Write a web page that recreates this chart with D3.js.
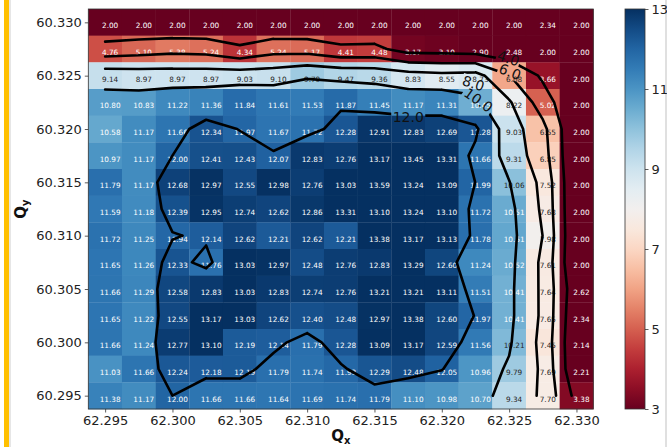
<!DOCTYPE html>
<html>
<head>
<meta charset="utf-8">
<script src="https://cdn.jsdelivr.net/npm/d3@7"></script>
<style>
  body { margin: 0; background: #fff; }
  svg { display: block; font-family: "DejaVu Sans", sans-serif; }
</style>
</head>
<body>
<svg id="chart" width="667" height="447"></svg>
<script>
// centres of the cells
var qx = d3.range(15).map(function (i) { return +(62.295 + i * 0.0025).toFixed(4); });
var qy = d3.range(15).map(function (i) { return +(60.330 - i * 0.0025).toFixed(4); });

// rows from top (Qy = 60.330) to bottom (Qy = 60.295)
var row01 = [2.00, 2.00, 2.00, 2.00, 2.00, 2.00, 2.00, 2.00, 2.00, 2.00, 2.00, 2.00, 2.00, 2.34, 2.00];
var row02 = [4.76, 5.10, 5.38, 5.24, 4.34, 5.24, 5.17, 4.41, 4.48, 3.17, 3.10, 2.90, 2.48, 2.00, 2.00];
var row03 = [9.14, 8.97, 8.97, 8.97, 9.03, 9.10, 9.79, 9.47, 9.36, 8.83, 8.55, 8.73, 6.08, 3.66, 2.00];
var row04 = [10.80, 10.83, 11.22, 11.36, 11.84, 11.61, 11.53, 11.87, 11.45, 11.17, 11.31, 10.45, 8.22, 5.02, 2.00];
var row05 = [10.58, 11.17, 11.66, 12.34, 11.97, 11.67, 11.72, 12.28, 12.91, 12.83, 12.69, 12.28, 9.03, 6.55, 2.00];
var row06 = [10.97, 11.17, 12.00, 12.41, 12.43, 12.07, 12.83, 12.76, 13.17, 13.45, 13.31, 11.66, 9.31, 6.85, 2.00];
var row07 = [11.79, 11.17, 12.68, 12.97, 12.55, 12.98, 12.76, 13.03, 13.59, 13.24, 13.09, 11.99, 10.06, 7.52, 2.00];
var row08 = [11.59, 11.18, 12.39, 12.95, 12.74, 12.62, 12.86, 13.31, 13.10, 13.24, 13.10, 11.72, 10.51, 7.68, 2.00];
var row09 = [11.72, 11.25, 11.94, 12.14, 12.62, 12.21, 12.62, 12.21, 13.38, 13.17, 13.13, 11.78, 10.61, 7.98, 2.00];
var row10 = [11.65, 11.26, 12.33, 11.76, 13.03, 12.97, 12.48, 12.76, 12.83, 13.29, 12.60, 11.24, 10.52, 7.61, 2.00];
var row11 = [11.66, 11.29, 12.58, 12.83, 13.03, 12.83, 12.74, 12.76, 13.21, 13.21, 13.11, 11.51, 10.41, 7.64, 2.62];
var row12 = [11.65, 11.22, 12.55, 13.17, 13.03, 12.62, 12.40, 12.48, 12.97, 13.38, 12.60, 11.97, 10.41, 7.65, 2.34];
var row13 = [11.66, 11.24, 12.77, 13.10, 12.19, 12.14, 11.79, 12.28, 13.09, 13.17, 12.59, 11.56, 10.21, 7.45, 2.14];
var row14 = [11.03, 11.66, 12.24, 12.18, 12.19, 11.79, 11.74, 11.93, 12.29, 12.48, 12.05, 10.96, 9.79, 7.69, 2.21];
var row15 = [11.38, 11.17, 12.00, 11.66, 11.66, 11.64, 11.69, 11.74, 11.79, 11.10, 10.98, 10.70, 9.34, 7.70, 3.38];
var rows = [row01, row02, row03, row04, row05, row06, row07, row08, row09, row10, row11, row12, row13, row14, row15];

var xTicks = [62.295, 62.300, 62.305, 62.310, 62.315, 62.320, 62.325, 62.330];
var yTicks = [60.295, 60.300, 60.305, 60.310, 60.315, 60.320, 60.325, 60.330];
var cbTicks = [3, 5, 7, 9, 11, 13];
var levels = [4, 6, 8, 10, 12];
// inline contour labels: level, Qx, Qy, angle
var clabels = [
  { level: 4, x: 62.32494, y: 60.32663, angle: 18 },
  { level: 6, x: 62.32506, y: 60.32537, angle: 22 },
  { level: 8, x: 62.32234, y: 60.32428, angle: 18 },
  { level: 10, x: 62.32271, y: 60.32272, angle: 35 },
  { level: 12, x: 62.31751, y: 60.32115, angle: 0 }
];

var svg = d3.select("#chart");
var plotL = 88.3, plotT = 9, plotW = 505, plotH = 400;
var n = 15, step = 0.0025;
var cw = plotW / n, ch = plotH / n;

// page decoration at the edges
svg.append("rect").attr("x", 4).attr("y", 0).attr("width", 5).attr("height", 447).attr("fill", "#ffc000");
svg.append("rect").attr("x", 9).attr("y", 0).attr("width", 2).attr("height", 447).attr("fill", "#e6e6e6");
svg.append("rect").attr("x", 665).attr("y", 0).attr("width", 2).attr("height", 447).attr("fill", "#e0e0e0");

var x = d3.scaleLinear().domain([qx[0] - step / 2, qx[n - 1] + step / 2]).range([plotL, plotL + plotW]);
var y = d3.scaleLinear().domain([qy[n - 1] - step / 2, qy[0] + step / 2]).range([plotT + plotH, plotT]);
var color = d3.scaleSequential(d3.interpolateRdBu).domain([3, 13]).clamp(true);

var cells = [];
rows.forEach(function (r, i) {
  r.forEach(function (v, j) { cells.push({ qx: qx[j], qy: qy[i], v: v }); });
});

var g = svg.append("g");
g.selectAll("rect.cell").data(cells).enter().append("rect")
  .attr("class", "cell")
  .attr("x", function (d) { return x(d.qx - step / 2); })
  .attr("y", function (d) { return y(d.qy + step / 2); })
  .attr("width", cw + 0.3)
  .attr("height", ch + 0.3)
  .attr("fill", function (d) { return color(d.v); });

g.selectAll("text.val").data(cells).enter().append("text")
  .attr("class", "val")
  .attr("x", function (d) { return x(d.qx) + 5; })
  .attr("y", function (d) { return y(d.qy) + 3.6; })
  .attr("text-anchor", "middle")
  .attr("dominant-baseline", "central")
  .attr("font-size", 7.3)
  .attr("fill", function (d) {
    var t = (d.v - 3) / 10;
    return Math.abs(t - 0.5) > 0.23 ? "#ffffff" : "#262626";
  })
  .text(function (d) { return d.v.toFixed(2); });

// marching squares between cell centres, saddles settled by the mean of the corners
function isoPath(level) {
  var p = d3.path();
  function pt(i, j) { return [x(qx[j]), y(qy[i])]; }
  function cross(a, b, va, vb) {
    var t = (level - va) / (vb - va);
    return [a[0] + t * (b[0] - a[0]), a[1] + t * (b[1] - a[1])];
  }
  function seg(a, b) { p.moveTo(a[0], a[1]); p.lineTo(b[0], b[1]); }
  for (var i = 0; i < n - 1; i++) {
    for (var j = 0; j < n - 1; j++) {
      var vtl = rows[i][j], vtr = rows[i][j + 1], vbr = rows[i + 1][j + 1], vbl = rows[i + 1][j];
      var tl = pt(i, j), tr = pt(i, j + 1), br = pt(i + 1, j + 1), bl = pt(i + 1, j);
      var s = [vtl >= level, vtr >= level, vbr >= level, vbl >= level];
      var e = {};
      if (s[0] !== s[1]) e.top = cross(tl, tr, vtl, vtr);
      if (s[1] !== s[2]) e.right = cross(tr, br, vtr, vbr);
      if (s[3] !== s[2]) e.bottom = cross(bl, br, vbl, vbr);
      if (s[0] !== s[3]) e.left = cross(tl, bl, vtl, vbl);
      var keys = Object.keys(e);
      if (keys.length === 2) {
        seg(e[keys[0]], e[keys[1]]);
      } else if (keys.length === 4) {
        var centre = (vtl + vtr + vbr + vbl) / 4 >= level;
        if (centre === s[0]) {
          seg(e.top, e.right); seg(e.left, e.bottom);
        } else {
          seg(e.top, e.left); seg(e.right, e.bottom);
        }
      }
    }
  }
  return p.toString();
}

var defs = svg.append("defs");
var mask = defs.append("mask").attr("id", "gaps")
  .attr("maskUnits", "userSpaceOnUse").attr("x", 0).attr("y", 0).attr("width", 667).attr("height", 447);
mask.append("rect").attr("x", 0).attr("y", 0).attr("width", 667).attr("height", 447).attr("fill", "#fff");
mask.selectAll("rect.gap").data(clabels).enter().append("rect")
  .attr("class", "gap")
  .attr("x", function (d) { return -(d.level >= 10 ? 17 : 12); })
  .attr("y", -7)
  .attr("width", function (d) { return d.level >= 10 ? 34 : 24; })
  .attr("height", 14)
  .attr("fill", "#000")
  .attr("transform", function (d) { return "translate(" + x(d.x) + "," + y(d.y) + ") rotate(" + d.angle + ")"; });

svg.append("g").attr("mask", "url(#gaps)")
  .selectAll("path").data(levels).enter().append("path")
  .attr("d", isoPath)
  .attr("fill", "none")
  .attr("stroke", "#000")
  .attr("stroke-width", 2.6)
  .attr("stroke-linecap", "round")
  .attr("stroke-linejoin", "round");

svg.append("g").selectAll("text").data(clabels).enter().append("text")
  .attr("transform", function (d) { return "translate(" + x(d.x) + "," + y(d.y) + ") rotate(" + d.angle + ")"; })
  .attr("text-anchor", "middle")
  .attr("dominant-baseline", "central")
  .attr("font-size", 14)
  .attr("fill", "#111")
  .text(function (d) { return d.level.toFixed(1); });

// frame
svg.append("rect").attr("x", plotL).attr("y", plotT).attr("width", plotW).attr("height", plotH)
  .attr("fill", "none").attr("stroke", "#333").attr("stroke-width", 0.8);

// axes
var xAxis = svg.append("g").attr("transform", "translate(0," + (plotT + plotH) + ")")
  .call(d3.axisBottom(x).tickValues(xTicks).tickFormat(d3.format(".3f")).tickSize(3.5).tickPadding(3));
var yAxis = svg.append("g").attr("transform", "translate(" + plotL + ",0)")
  .call(d3.axisLeft(y).tickValues(yTicks).tickFormat(d3.format(".3f")).tickSize(3.5).tickPadding(3));
[xAxis, yAxis].forEach(function (a) {
  a.select(".domain").remove();
  a.selectAll("text").attr("font-size", 13).attr("font-family", "DejaVu Sans").attr("fill", "#222");
  a.selectAll("line").attr("stroke", "#333").attr("stroke-width", 0.8);
});

var xl = svg.append("text").attr("x", plotL + plotW / 2).attr("y", 441)
  .attr("text-anchor", "middle").attr("font-size", 15).attr("font-weight", "bold").attr("fill", "#111");
xl.append("tspan").text("Q");
xl.append("tspan").attr("font-size", 10).attr("dy", 3).text("x");

var yl = svg.append("text").attr("transform", "translate(26," + (plotT + plotH / 2) + ") rotate(-90)")
  .attr("text-anchor", "middle").attr("font-size", 15).attr("font-weight", "bold").attr("fill", "#111");
yl.append("tspan").text("Q");
yl.append("tspan").attr("font-size", 10).attr("dy", 3).text("y");

// colorbar
var cbX = 625, cbW = 20;
var cb = d3.scaleLinear().domain([3, 13]).range([plotT + plotH, plotT]);
var grad = defs.append("linearGradient").attr("id", "cbgrad")
  .attr("x1", 0).attr("y1", 1).attr("x2", 0).attr("y2", 0);
d3.range(0, 1.0001, 0.05).forEach(function (t) {
  grad.append("stop").attr("offset", t).attr("stop-color", d3.interpolateRdBu(t));
});
svg.append("rect").attr("x", cbX).attr("y", plotT).attr("width", cbW).attr("height", plotH)
  .attr("fill", "url(#cbgrad)").attr("stroke", "#333").attr("stroke-width", 0.8);
var cbAxis = svg.append("g").attr("transform", "translate(" + (cbX + cbW) + ",0)")
  .call(d3.axisRight(cb).tickValues(cbTicks).tickFormat(d3.format("d")).tickSize(3.5).tickPadding(3));
cbAxis.select(".domain").remove();
cbAxis.selectAll("text").attr("font-size", 13).attr("font-family", "DejaVu Sans").attr("fill", "#222");
cbAxis.selectAll("line").attr("stroke", "#333").attr("stroke-width", 0.8);
</script>
</body>
</html>
